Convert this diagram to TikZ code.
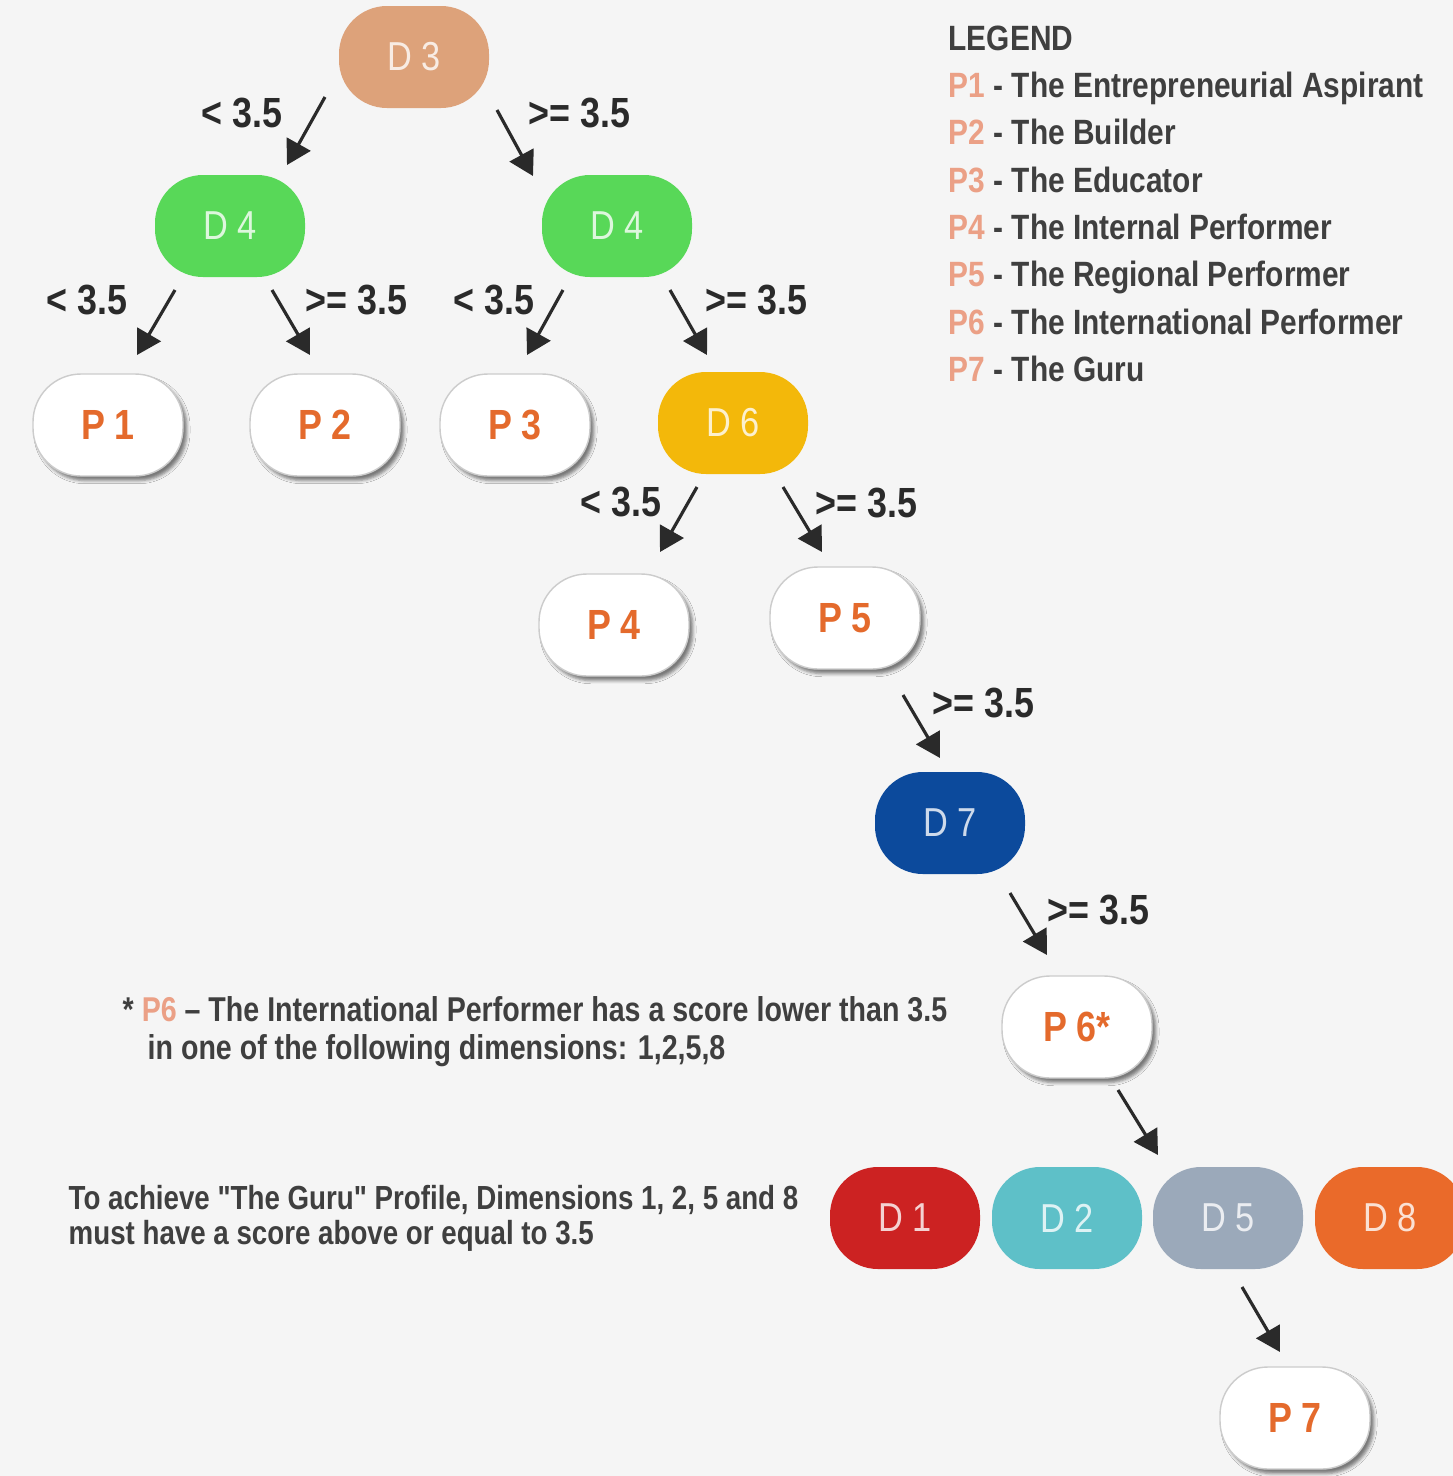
\documentclass[tikz,border=0pt]{standalone}
\usepackage{fontspec}
\setmainfont{Liberation Sans}
\newfontfamily\cnd{Liberation Sans}[FakeStretch=0.85]
\newfontfamily\cndx{Liberation Sans}[FakeStretch=0.83]
\usetikzlibrary{arrows.meta,shadows.blur}
\definecolor{bg}{HTML}{F5F5F5}
\definecolor{cDthree}{HTML}{DDA27A}
\definecolor{cDfour}{HTML}{58D858}
\definecolor{cDsix}{HTML}{F3B80A}
\definecolor{cDseven}{HTML}{0C4A9C}
\definecolor{cDone}{HTML}{CC2222}
\definecolor{cDtwo}{HTML}{5EC0C8}
\definecolor{cDfive}{HTML}{9BA9BA}
\definecolor{cDeight}{HTML}{EA6A2A}
\definecolor{porange}{HTML}{E46A2C}
\definecolor{legorange}{HTML}{EBA086}
\definecolor{ink}{HTML}{2A2A2A}
\begin{document}
\begin{tikzpicture}[x=0.1mm,y=-0.1mm,
  dnode/.style={rounded corners=4.8mm, minimum width=15mm, minimum height=10.2mm,
    inner sep=0pt, text=white, text opacity=0.8,
    font=\cnd\fontsize{11.5}{13}\selectfont},
  pnode/.style={dnode, fill=white, draw=black!20, line width=0.4pt,
    text=porange, text opacity=1, font=\cnd\bfseries\fontsize{12}{14}\selectfont,
    blur shadow={shadow xshift=1.1pt, shadow yshift=-1.3pt, shadow blur radius=0.9pt, shadow opacity=50}},
  arrowline/.style={line width=0.9pt, draw=ink, -{Triangle[length=2.4mm,width=2.7mm]}},
  condlabel/.style={font=\cnd\bfseries\fontsize{12}{14}\selectfont, text=ink, inner sep=0pt},
  legline/.style={anchor=base west, inner sep=0pt, font=\cnd\bfseries\fontsize{10}{12}\selectfont, text=ink!90},
  note/.style={anchor=base west, inner sep=0pt, font=\cndx\bfseries\fontsize{9.5}{11}\selectfont, text=ink!90},
  footnote/.style={note, font=\cndx\bfseries\fontsize{9.8}{11}\selectfont},
]
\useasboundingbox (0,0) rectangle (1453,1476);
\clip (0,0) rectangle (1453,1476);
\fill[bg] (0,0) rectangle (1453,1476);

% decision nodes
\node[dnode, fill=cDthree] (d3)  at (414,57)  {D 3};
\node[dnode, fill=cDfour]  (d4l) at (230,226) {D 4};
\node[dnode, fill=cDfour]  (d4r) at (617,226) {D 4};
\node[dnode, fill=cDsix]   (d6)  at (733,423) {D 6};
\node[dnode, fill=cDseven] (d7)  at (950,823) {D 7};
\node[dnode, fill=cDone]   (d1)  at (905,1218) {D 1};
\node[dnode, fill=cDtwo]   (d2)  at (1067,1218) {D 2};
\node[dnode, fill=cDfive]  (d5)  at (1228,1218) {D 5};
\node[dnode, fill=cDeight] (d8)  at (1390,1218) {D 8};

% profile nodes
\node[pnode] (p1) at (108,425)  {P 1};
\node[pnode] (p2) at (325,425)  {P 2};
\node[pnode] (p3) at (515,425)  {P 3};
\node[pnode] (p4) at (614,625)  {P 4};
\node[pnode] (p5) at (845,618)  {P 5};
\node[pnode] (p6) at (1077,1027) {P 6*};
\node[pnode] (p7) at (1295,1418) {P 7};

% branches
\draw[arrowline] ([shift={(-89,40)}]d3.center)  -- ([shift={(57,-61)}]d4l.center);
\draw[arrowline] ([shift={(83,53)}]d3.center)   -- ([shift={(-84,-50)}]d4r.center);
\draw[arrowline] ([shift={(-55,64)}]d4l.center) -- ([shift={(29,-70)}]p1.center);
\draw[arrowline] ([shift={(42,64)}]d4l.center)  -- ([shift={(-15,-70)}]p2.center);
\draw[arrowline] ([shift={(-54,64)}]d4r.center) -- ([shift={(12,-70)}]p3.center);
\draw[arrowline] ([shift={(53,64)}]d4r.center)  -- ([shift={(-26,-68)}]d6.center);
\draw[arrowline] ([shift={(-36,64)}]d6.center)  -- ([shift={(46,-73)}]p4.center);
\draw[arrowline] ([shift={(50,64)}]d6.center)   -- ([shift={(-23,-66)}]p5.center);
\draw[arrowline] ([shift={(58,77)}]p5.center)   -- ([shift={(-10,-65)}]d7.center);
\draw[arrowline] ([shift={(60,70)}]d7.center)   -- ([shift={(-30,-72)}]p6.center);
\draw[arrowline] ([shift={(41,63)}]p6.center)   -- ([shift={(-70,-63)}]d5.center);
\draw[arrowline] ([shift={(14,69)}]d5.center)   -- ([shift={(-15,-66)}]p7.center);

% branch conditions
\node[condlabel, anchor=east] (c1)  at (283,113)  {< 3.5};
\node[condlabel, anchor=west] (c2)  at (528,113)  {>= 3.5};
\node[condlabel, anchor=east] (c3)  at (128,300)  {< 3.5};
\node[condlabel, anchor=west] (c4)  at (305,300)  {>= 3.5};
\node[condlabel, anchor=east] (c5)  at (535,300)  {< 3.5};
\node[condlabel, anchor=west] (c6)  at (705,300)  {>= 3.5};
\node[condlabel, anchor=east] (c7)  at (662,502)  {< 3.5};
\node[condlabel, anchor=west] (c8)  at (815,503)  {>= 3.5};
\node[condlabel, anchor=west] (c9)  at (932,703)  {>= 3.5};
\node[condlabel, anchor=west] (c10) at (1047,910) {>= 3.5};

% legend
\node[legline] (lgh) at (948,50)  {LEGEND};
\node[legline] (lg1) at (948,97)  {\textcolor{legorange}{P1} - The Entrepreneurial Aspirant};
\node[legline] (lg2) at (948,144) {\textcolor{legorange}{P2} - The Builder};
\node[legline] (lg3) at (948,192) {\textcolor{legorange}{P3} - The Educator};
\node[legline] (lg4) at (948,239) {\textcolor{legorange}{P4} - The Internal Performer};
\node[legline] (lg5) at (948,286) {\textcolor{legorange}{P5} - The Regional Performer};
\node[legline] (lg6) at (948,334) {\textcolor{legorange}{P6} - The International Performer};
\node[legline] (lg7) at (948,381) {\textcolor{legorange}{P7} - The Guru};

% notes
\node[footnote] (n1) at (122,1021) {* \textcolor{legorange}{P6} – The International Performer has a score lower than 3.5};
\node[footnote] (n2) at (147,1059) {in one of the following dimensions: 1,2,5,8};
\node[note] (n3) at (68,1209)  {To achieve "The Guru" Profile, Dimensions 1, 2, 5 and 8};
\node[note] (n4) at (68,1244)  {must have a score above or equal to 3.5};
\end{tikzpicture}
\end{document}
